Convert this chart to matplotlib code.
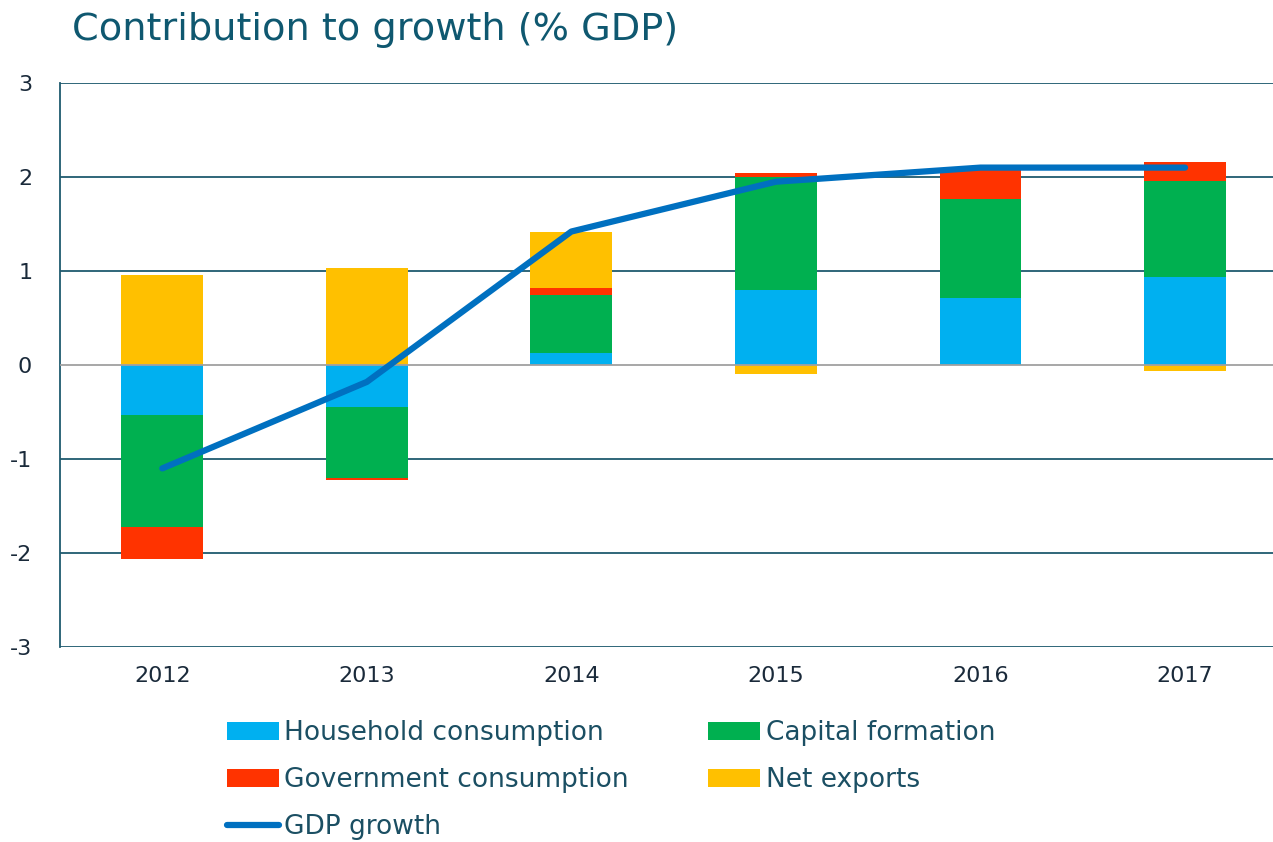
#!/usr/bin/python
# -*- coding: utf-8 -*-
"""Contribution to growth chart (stacked bars plus GDP line)."""

import matplotlib
matplotlib.use("Agg")
import matplotlib.pyplot as plt
import numpy as np

# Data
years = ["2012", "2013", "2014", "2015", "2016", "2017"]
household = [-0.53, -0.45, 0.13, 0.80, 0.71, 0.94]
capital = [-1.19, -0.75, 0.62, 1.20, 1.06, 1.02]
government = [-0.34, -0.02, 0.07, 0.04, 0.33, 0.20]
net_exports = [0.96, 1.03, 0.60, -0.10, 0.00, -0.06]
gdp_growth = [-1.10, -0.18, 1.42, 1.95, 2.10, 2.10]

yticks = [-3, -2, -1, 0, 1, 2, 3]

text_col = "#1B4F63"
grid_col = "#1F5A6E"

plt.rcParams["font.family"] = ["DejaVu Sans"]

fig_dpi = 100
fig = plt.figure(figsize=(1273 / fig_dpi, 842 / fig_dpi), dpi=fig_dpi)
ax = fig.add_axes([60 / 1273, 1 - 647 / 842, 1 - 60 / 1273, (647 - 83) / 842])

x = np.arange(len(years))
width = 0.4

series = [
    (household, "#00B0F0", "Household consumption"),
    (capital, "#00B050", "Capital formation"),
    (government, "#FF3300", "Government consumption"),
    (net_exports, "#FFC000", "Net exports"),
]

# stack positives and negatives separately
pos_base = np.zeros(len(years))
neg_base = np.zeros(len(years))
handles = {}
for vals, col, name in series:
    vals = np.array(vals)
    base = np.where(vals >= 0, pos_base, neg_base)
    b = ax.bar(x, vals, width, bottom=base, color=col, label=name, zorder=3)
    handles[name] = b
    pos_base = pos_base + np.where(vals >= 0, vals, 0)
    neg_base = neg_base + np.where(vals < 0, vals, 0)

line, = ax.plot(x, gdp_growth, color="#0070C0", linewidth=4.5,
                solid_capstyle="round", label="GDP growth", zorder=4)

# gridlines
for t in yticks:
    ax.axhline(t, color="#A0A0A0" if t == 0 else grid_col,
               linewidth=1.3, zorder=1 if t != 0 else 3.5)

ax.set_ylim(-3, 3)
ax.set_xlim(-0.5, 5.43)
ax.set_yticks(yticks)
ax.set_yticklabels([str(t) for t in yticks])
ax.set_xticks(x)
ax.set_xticklabels(years)
ax.tick_params(axis="both", length=0, labelsize=16, colors="#1a2a3a")
ax.tick_params(axis="y", pad=20)
ax.tick_params(axis="x", pad=14)
for side in ["top", "right", "bottom"]:
    ax.spines[side].set_visible(False)
ax.spines["left"].set_color(grid_col)
ax.spines["left"].set_linewidth(1.3)

fig.text(72 / 1273, 1 - 30 / 842, "Contribution to growth (% GDP)",
         fontsize=27.5, color="#0F5870", va="center", ha="left")

order = ["Household consumption", "Government consumption", "GDP growth",
         "Capital formation", "Net exports"]
hmap = dict(handles)
hmap["GDP growth"] = line
leg = fig.legend([hmap[k] for k in order], order, ncol=2,
                 loc="upper left", bbox_to_anchor=(214 / 1273, 1 - 707 / 842),
                 frameon=False, fontsize=19, handlelength=1.95, handleheight=0.7,
                 handletextpad=0.22, columnspacing=3.0, labelspacing=0.8,
                 borderpad=0)
for t in leg.get_texts():
    t.set_color(text_col)

fig.savefig("out.png", dpi=fig_dpi)
